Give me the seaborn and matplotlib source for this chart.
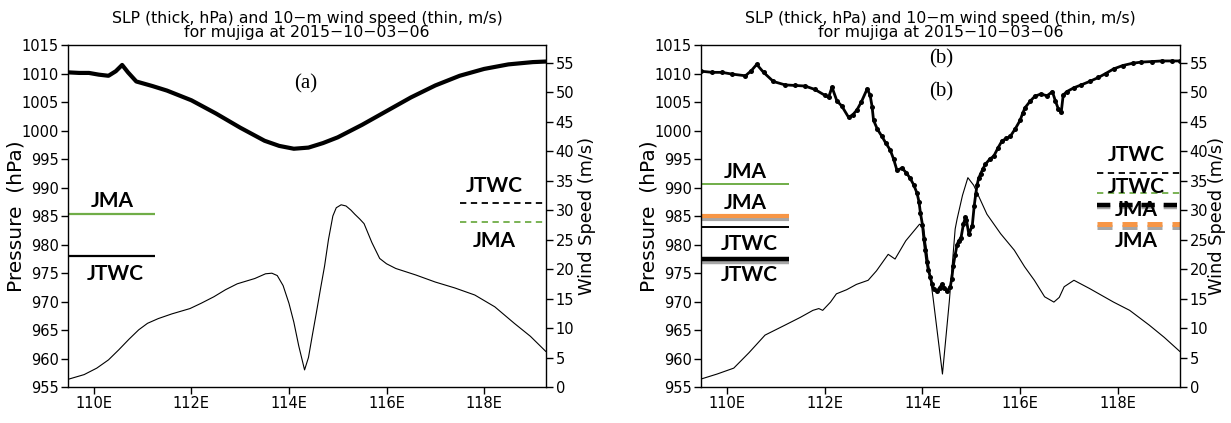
import matplotlib
matplotlib.use("Agg")
import matplotlib.pyplot as plt
import numpy as np
import pandas as pd
import seaborn as sns

# ---------------- data ----------------
# Panel (a): SLP (hPa) along longitude
lon_slp_a = [109.47, 109.7, 109.9, 110.1, 110.3, 110.45, 110.58, 110.7, 110.87, 111.2, 111.5,
             112.0, 112.5, 113.0, 113.5, 113.8, 114.1, 114.4, 114.7, 115.0, 115.5, 116.0,
             116.5, 117.0, 117.5, 118.0, 118.5, 119.0, 119.27]
slp_a = [1010.2, 1010.1, 1010.1, 1009.8, 1009.6, 1010.4, 1011.5, 1010.2, 1008.6, 1007.8, 1007.0,
         1005.3, 1003.0, 1000.5, 998.2, 997.3, 996.8, 997.0, 997.8, 998.8, 1001.0, 1003.4,
         1005.8, 1007.9, 1009.6, 1010.8, 1011.6, 1012.0, 1012.1]

# Panel (a): 10-m wind speed (m/s)
lon_wind_a = [109.47, 109.8, 110.06, 110.3, 110.51, 110.72, 110.92, 111.1, 111.32, 111.6, 111.97,
              112.2, 112.46, 112.7, 112.94, 113.1, 113.3, 113.52, 113.65, 113.76, 113.88, 114.0,
              114.1, 114.2, 114.32, 114.4, 114.48, 114.56, 114.65, 114.73, 114.81, 114.9,
              114.97, 115.07, 115.17, 115.27, 115.35, 115.45, 115.54, 115.7, 115.86, 116.0,
              116.19, 116.6, 117.0, 117.4, 117.81, 118.22, 118.62, 118.95, 119.27]
wind_a = [1.3, 2.1, 3.2, 4.6, 6.3, 8.1, 9.7, 10.8, 11.6, 12.4, 13.3,
          14.2, 15.3, 16.5, 17.5, 17.9, 18.4, 19.2, 19.3, 18.9, 17.2, 14.2,
          11.0, 7.0, 2.9, 5.0, 8.8, 12.5, 16.8, 20.5, 25.0, 29.0,
          30.4, 30.9, 30.7, 30.0, 29.3, 28.5, 27.7, 24.5, 21.8, 20.9,
          20.1, 19.0, 17.8, 16.8, 15.6, 13.6, 10.8, 8.6, 6.0]

# Panel (b): SLP (hPa)
lon_slp_b = [109.47, 109.7, 109.9, 110.1, 110.38, 110.5, 110.61, 110.75, 110.95, 111.19, 111.4,
             111.6, 111.8, 112.0, 112.08, 112.15, 112.25, 112.35, 112.49, 112.58, 112.66, 112.75,
             112.87, 112.93, 112.97, 113.0, 113.08, 113.17, 113.25, 113.34, 113.41, 113.48,
             113.58, 113.67, 113.75, 113.82, 113.89, 113.93, 113.96, 114.0, 114.03, 114.06,
             114.09, 114.12, 114.16, 114.2, 114.23, 114.3, 114.35, 114.4, 114.45, 114.5,
             114.57, 114.6, 114.63, 114.67, 114.71, 114.74, 114.79, 114.84, 114.88, 114.9,
             114.95, 115.02, 115.06, 115.09, 115.12, 115.15, 115.19, 115.24, 115.29, 115.38,
             115.46, 115.55, 115.63, 115.72, 115.8, 115.9, 116.0, 116.05, 116.1, 116.21,
             116.3, 116.42, 116.55, 116.66, 116.72, 116.78, 116.84, 116.88, 116.95, 117.1,
             117.25, 117.42, 117.6, 117.75, 117.91, 118.1, 118.3, 118.48, 118.7, 118.9,
             119.1, 119.27]
slp_b = [1010.4, 1010.2, 1010.2, 1009.9, 1009.6, 1010.5, 1011.6, 1010.2, 1008.6, 1008.0, 1007.9,
         1007.8, 1007.2, 1006.2, 1005.8, 1007.6, 1005.2, 1004.3, 1002.3, 1002.8, 1003.6, 1005.0,
         1007.3, 1006.2, 1004.2, 1001.8, 1000.2, 999.0, 997.8, 996.6, 995.0, 993.0,
         993.4, 992.6, 991.6, 990.5, 989.0, 987.5, 985.5, 983.5, 981.0, 979.0,
         977.0, 975.6, 974.3, 973.0, 972.2, 971.8, 972.4, 973.0, 972.4, 971.8,
         972.6, 974.0, 976.2, 978.2, 980.0, 980.6, 981.2, 983.6, 984.8, 984.3,
         981.8, 983.3, 986.8, 988.8, 990.5, 991.6, 992.4, 993.3, 994.1, 995.0,
         995.5, 997.0, 998.2, 998.6, 999.0, 1000.3, 1001.8, 1003.0, 1004.0, 1005.2,
         1006.0, 1006.4, 1006.1, 1006.8, 1005.2, 1003.8, 1003.2, 1006.2, 1006.8, 1007.5,
         1008.0, 1008.6, 1009.3, 1010.0, 1010.8, 1011.4, 1011.8, 1012.0, 1012.1, 1012.2,
         1012.2, 1012.2]

# Panel (b): 10-m wind speed (m/s)
lon_wind_b = [109.47, 109.8, 110.14, 110.45, 110.78, 111.19, 111.5, 111.76, 111.88, 111.96,
              112.12, 112.24, 112.45, 112.65, 112.89, 113.06, 113.3, 113.44, 113.66, 113.8,
              113.94, 114.02, 114.22, 114.41, 114.55, 114.67, 114.71, 114.82, 114.93, 115.05,
              115.16, 115.32, 115.6, 115.88, 116.09, 116.29, 116.5, 116.69, 116.8, 116.9,
              117.1, 117.42, 117.91, 118.24, 118.64, 118.95, 119.27]
wind_b = [1.35, 2.2, 3.2, 5.8, 8.8, 10.5, 11.8, 13.0, 13.3, 13.0,
          14.4, 15.8, 16.5, 17.4, 18.1, 19.7, 22.5, 21.7, 24.8, 26.2,
          27.6, 27.3, 15.0, 2.2, 14.5, 26.8, 28.5, 32.5, 35.5, 34.2,
          32.2, 29.3, 26.0, 23.2, 20.4, 18.1, 15.3, 14.4, 15.2, 17.0,
          18.1, 16.7, 14.4, 13.0, 10.5, 8.4, 6.0]

# Best-track reference values
jma_p_a, jtwc_p_a = 985.3, 978.0          # hPa
jtwc_w_a, jma_w_a = 31.2, 27.9            # m/s
jma_p_b_thin, jma_p_b_thick = 990.7, 984.95
jtwc_p_b_thin, jtwc_p_b_thick = 983.1, 977.4
jtwc_w_b_thin, jma_w_b_thin = 36.3, 32.9
jtwc_w_b_thick, jma_w_b_thick = 30.9, 27.6

xticks = [110, 112, 114, 116, 118]
xticklabels = ["110E", "112E", "114E", "116E", "118E"]
pticks = list(range(955, 1016, 5))
wticks = list(range(0, 56, 5))
title = "SLP (thick, hPa) and 10\u2212m wind speed (thin, m/s)\nfor mujiga at 2015\u221210\u221203\u221206"

# ---------------- style ----------------
sns.set_theme(style="white")
plt.rcParams["font.family"] = ["DejaVu Sans"]
plt.rcParams["axes.linewidth"] = 1.0
for k in ["text.color", "axes.labelcolor", "xtick.color", "ytick.color", "axes.edgecolor"]:
    plt.rcParams[k] = "black"

GREEN = "#70AD47"
ORANGE = "#F79646"
GRAY = "#A6A6A6"
LAB = dict(family=["Lato", "DejaVu Sans"], weight="bold", fontsize=15, color="black",
           ha="center", va="center")

XMIN, XMAX = 109.47, 119.27

fig = plt.figure(figsize=(12.31, 4.23), dpi=100)
W, H = 1231, 423
axA = fig.add_axes([68 / W, 1 - 387 / H, 478 / W, 342 / H])
axB = fig.add_axes([701 / W, 1 - 387 / H, 479 / W, 342 / H])

PLABEL = "Pressure  (hPa)"
WLABEL = "Wind Speed (m/s)"


def setup(ax):
    ax.set_xlim(XMIN, XMAX)
    ax.set_ylim(955, 1015)
    ax.set_yticks(pticks)
    ax.set_xticks(xticks)
    ax.set_xticklabels(xticklabels)
    ax.tick_params(axis="both", direction="out", length=5, width=1, labelsize=10.5,
                   colors="black", left=True, bottom=True, top=False, right=False, pad=1.5)
    for s in ax.spines.values():
        s.set_color("black")
        s.set_linewidth(1.0)
    ax.set_title(title, fontsize=11.3, linespacing=0.92, pad=6, color="black")
    tw = ax.twinx()
    tw.set_ylim(0, 58)
    tw.set_yticks(wticks)
    tw.tick_params(axis="y", direction="out", length=5, width=1, labelsize=10.5,
                   colors="black", right=True, left=False, pad=2)
    for s in tw.spines.values():
        s.set_visible(False)
    tw.set_xlim(XMIN, XMAX)
    return tw


def labels(ax, tw, rx):
    ax.set_xlabel("")
    tw.set_xlabel("")
    ax.set_ylabel(PLABEL, fontsize=14.5, color="black")
    ax.yaxis.set_label_coords(-0.088, 0.5)
    tw.set_ylabel(WLABEL, fontsize=12.8, rotation=90, color="black")
    tw.yaxis.set_label_coords(rx, 0.5)


twA = setup(axA)
twB = setup(axB)

# ---------------- panel (a) ----------------
dfa = pd.DataFrame({"lon": lon_slp_a, "slp": slp_a})
dwa = pd.DataFrame({"lon": lon_wind_a, "wind": wind_a})
sns.lineplot(data=dfa, x="lon", y="slp", ax=axA, color="black", lw=3.0, sort=False)
sns.lineplot(data=dwa, x="lon", y="wind", ax=twA, color="black", lw=0.8, sort=False)
labels(axA, twA, 1.066)

axA.hlines(jma_p_a, XMIN, 111.25, color=GREEN, lw=1.6)
axA.hlines(jtwc_p_a, XMIN, 111.25, color="black", lw=1.6)
axA.text(110.38, 987.7, "JMA", **LAB)
axA.text(110.43, 974.8, "JTWC", **LAB)
twA.hlines(jtwc_w_a, 117.5, XMAX, color="black", lw=1.3, linestyles=(0, (3.5, 2.5)))
twA.hlines(jma_w_a, 117.5, XMAX, color=GREEN, lw=1.3, linestyles=(0, (3.5, 2.5)))
twA.text(118.2, 34.1, "JTWC", **LAB)
twA.text(118.2, 24.8, "JMA", **LAB)
axA.text(114.35, 1008.1, "(a)", family=["Liberation Serif"], fontsize=15,
         ha="center", va="center")

# ---------------- panel (b) ----------------
dfb = pd.DataFrame({"lon": lon_slp_b, "slp": slp_b})
dwb = pd.DataFrame({"lon": lon_wind_b, "wind": wind_b})
sns.lineplot(data=dwb, x="lon", y="wind", ax=twB, color="black", lw=0.8, sort=False)
sns.lineplot(data=dfb, x="lon", y="slp", ax=axB, color="black", lw=2.0, sort=False,
             marker="o", markersize=3.6, markeredgewidth=0)
labels(axB, twB, 1.058)
axB.set_zorder(twB.get_zorder() + 1)
axB.patch.set_visible(False)

# left-side markers (pressure)
axB.hlines(jma_p_b_thin, XMIN, 111.27, color=GREEN, lw=1.4)
axB.hlines(jma_p_b_thick - 0.45, XMIN, 111.27, color=GRAY, lw=3.0)
axB.hlines(jma_p_b_thick, XMIN, 111.27, color=ORANGE, lw=3.0)
axB.hlines(jtwc_p_b_thin, XMIN, 111.27, color="black", lw=1.4)
axB.hlines(jtwc_p_b_thick - 0.4, XMIN, 111.27, color=GRAY, lw=3.2)
axB.hlines(jtwc_p_b_thick, XMIN, 111.27, color="black", lw=3.2)
axB.text(110.37, 992.8, "JMA", **LAB)
axB.text(110.37, 987.2, "JMA", **LAB)
axB.text(110.45, 980.1, "JTWC", **LAB)
axB.text(110.45, 974.7, "JTWC", **LAB)

# right-side markers (wind)
twB.hlines(jtwc_w_b_thin, 117.57, XMAX, color="black", lw=1.3, linestyles=(0, (3.5, 2.5)))
twB.hlines(jma_w_b_thin, 117.57, XMAX, color=GREEN, lw=1.3, linestyles=(0, (3.5, 2.5)))
twB.hlines(jtwc_w_b_thick - 0.45, 117.57, XMAX, color=GRAY, lw=3.2, linestyles=(0, (3, 2)))
twB.hlines(jtwc_w_b_thick, 117.57, XMAX, color="black", lw=3.2, linestyles=(0, (3, 2)))
twB.hlines(jma_w_b_thick - 0.45, 117.57, XMAX, color=GRAY, lw=3.6, linestyles=(0, (3, 2)))
twB.hlines(jma_w_b_thick, 117.57, XMAX, color=ORANGE, lw=3.6, linestyles=(0, (3, 2)))
twB.text(118.37, 39.3, "JTWC", **LAB)
twB.text(118.37, 33.9, "JTWC", **LAB)
twB.text(118.37, 30.1, "JMA", **LAB)
twB.text(118.37, 24.8, "JMA", **LAB)

axB.text(114.39, 1012.6, "(b)", family=["Liberation Serif"], fontsize=15,
         ha="center", va="center")
axB.text(114.39, 1006.8, "(b)", family=["Liberation Serif"], fontsize=15,
         ha="center", va="center")

fig.savefig("out.png", dpi=100)
